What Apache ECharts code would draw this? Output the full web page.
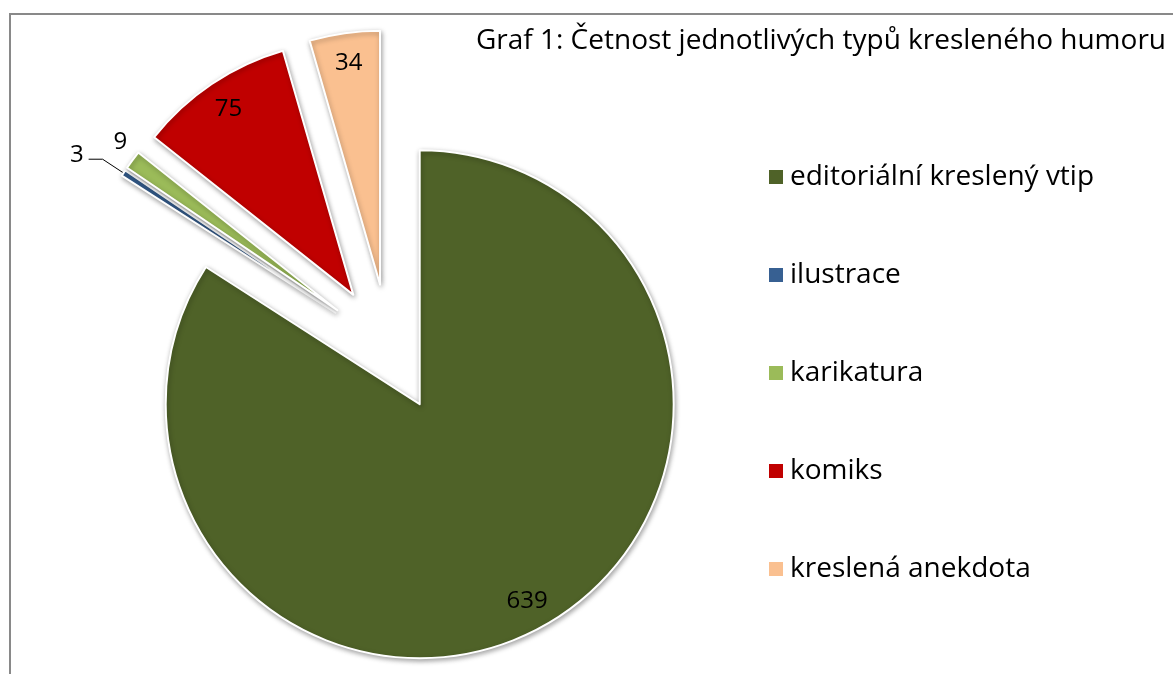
<!DOCTYPE html>
<html>
<head>
<meta charset="utf-8">
<script src="https://cdn.jsdelivr.net/npm/echarts@6/dist/echarts.min.js"></script>
<style>
  html, body { margin: 0; padding: 0; background: #fff; }
  #chart { width: 1173px; height: 674px; }
</style>
</head>
<body>
<div id="chart"></div>
<script>
// data
var categories = ['editoriální kreslený vtip', 'ilustrace', 'karikatura', 'komiks', 'kreslená anekdota'];
var counts = [639, 3, 9, 75, 34];
var colors = ['#4f6228', '#376092', '#9bbb59', '#c00000', '#fac090'];
var titleText = 'Graf 1: Četnost jednotlivých typů kresleného humoru';

var font = '"Open Sans", sans-serif';
var chart = echarts.init(document.getElementById('chart'), null, { renderer: 'canvas' });

// which slices get their number outside (the thin ones)
var outsideIdx = [1, 2];

var pieData = categories.map(function (name, i) {
    var item = {
        name: name,
        value: counts[i],
        selected: true,
        itemStyle: { color: colors[i] }
    };
    if (i === 1) {
        item.label = { show: true };
        item.labelLine = { show: true, length: 25, length2: 14 };
    } else if (i === 2) {
        item.label = { show: true };
        item.labelLine = { show: false, length: 25, length2: 0 };
    }
    return item;
});

var labelData = categories.map(function (name, i) {
    return {
        name: name,
        value: counts[i],
        selected: true,
        label: { show: outsideIdx.indexOf(i) < 0 }
    };
});

var pieCommon = {
    type: 'pie',
    center: [389, 348],
    startAngle: 90,
    clockwise: true,
    selectedMode: 'multiple',
    selectedOffset: 64,
    avoidLabelOverlap: false,
    animation: false,
    emphasis: { disabled: true }
};

var option = {
    backgroundColor: '#ffffff',
    title: {
        text: titleText,
        right: 2,
        top: 22,
        textStyle: { fontFamily: font, fontSize: 28, fontWeight: 'normal', color: '#000' }
    },
    legend: {
        orient: 'vertical',
        left: 762,
        top: 157,
        itemWidth: 16,
        itemHeight: 16,
        itemGap: 68,
        icon: 'rect',
        selectedMode: false,
        data: categories,
        textStyle: { fontFamily: font, fontSize: 28, color: '#000', lineHeight: 30, padding: [0, 0, 0, 1] }
    },
    graphic: [{
        type: 'rect',
        z: -10,
        shape: { x: 10, y: 14, width: 1400, height: 900 },
        style: { fill: 'none', stroke: '#898989', lineWidth: 2 }
    }],
    series: [
        Object.assign({}, pieCommon, {
            name: 'main',
            radius: 254,
            data: pieData,
            itemStyle: {
                borderColor: '#ffffff',
                borderWidth: 2,
                shadowBlur: 5,
                shadowColor: 'rgba(0,0,0,0.35)',
                shadowOffsetX: 1,
                shadowOffsetY: 2
            },
            label: {
                show: false,
                position: 'outside',
                formatter: '{c}',
                fontFamily: font,
                fontSize: 24,
                color: '#000'
            },
            labelLine: { lineStyle: { color: '#000', width: 1 } },
            labelLayout: function (params) {
                // the "9" sits a little right of where the outside label lands
                if (params.dataIndex === 2) {
                    return { dx: 20, dy: -3 };
                }
                if (params.dataIndex === 1) {
                    return { dy: -4 };
                }
            }
        }),
        Object.assign({}, pieCommon, {
            name: 'labels',
            silent: true,
            radius: [188, 254],
            data: labelData,
            itemStyle: { color: 'rgba(0,0,0,0)', borderWidth: 0 },
            label: {
                position: 'inside',
                formatter: '{c}',
                fontFamily: font,
                fontSize: 24,
                color: '#000'
            },
            labelLine: { show: false }
        })
    ]
};

chart.setOption(option);
window.addEventListener('resize', function () {
    chart.resize();
});
</script>
</body>
</html>
